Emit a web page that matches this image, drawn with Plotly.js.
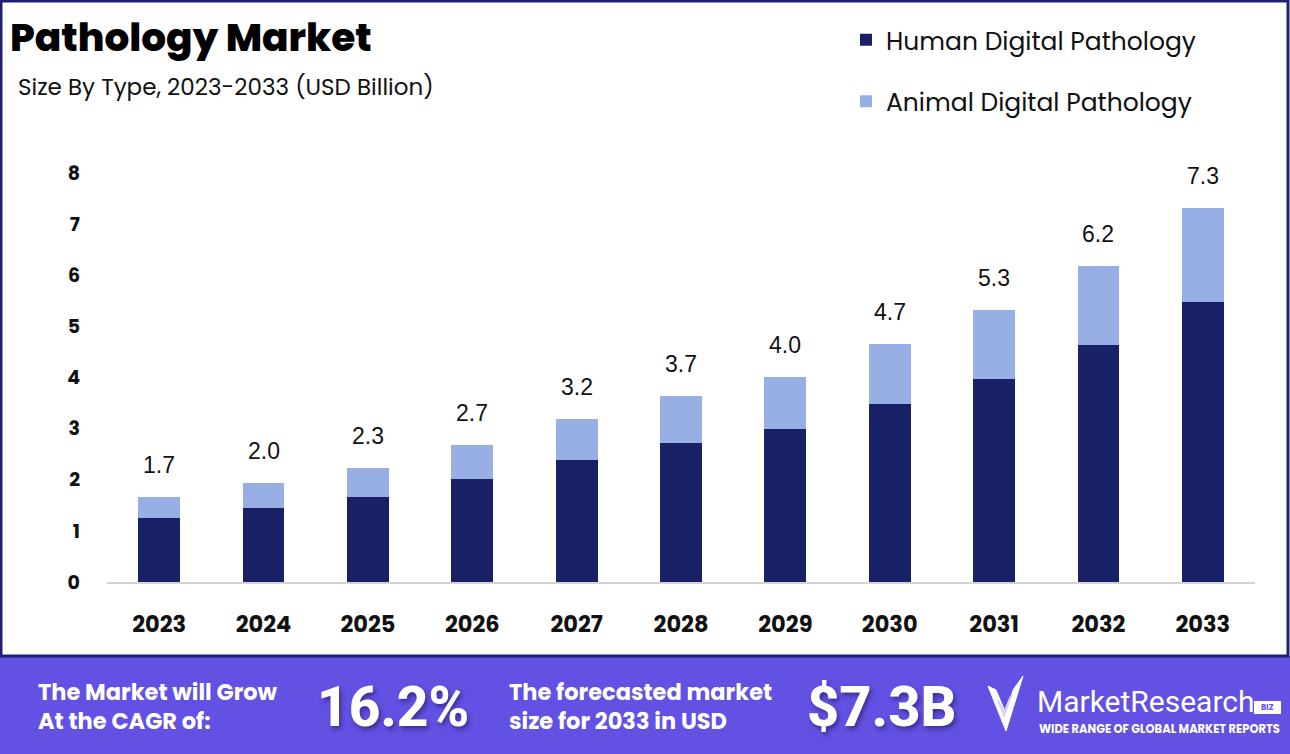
<!DOCTYPE html>
<html>
<head>
<meta charset="utf-8">
<script src="https://cdn.plot.ly/plotly-3.0.1.min.js"></script>
<style>
  html, body { margin: 0; padding: 0; background: #ffffff; }
  #chart { width: 1290px; height: 754px; }
</style>
</head>
<body>
<div id="chart"></div>
<script>
// ---- Data ----
const years = ['2023','2024','2025','2026','2027','2028','2029','2030','2031','2032','2033'];
const humanValues  = [1.25, 1.45, 1.66, 2.02, 2.39, 2.72, 2.99, 3.48, 3.97, 4.64, 5.48];
const animalValues = [0.41, 0.49, 0.57, 0.66, 0.80, 0.92, 1.02, 1.18, 1.35, 1.54, 1.84];
const totalLabels  = [1.7, 2.0, 2.3, 2.7, 3.2, 3.7, 4.0, 4.7, 5.3, 6.2, 7.3];
const yTicks = [0, 1, 2, 3, 4, 5, 6, 7, 8];
const cagrText = '16.2%';
const forecastText = '$7.3B';

// ---- Layout geometry helpers ----
const W = 1290, H = 754;
const M = { l: 107, r: 35, t: 173, b: 172 };
const PW = W - M.l - M.r, PH = H - M.t - M.b;
const px = x => (x - M.l) / PW;
const py = y => (H - M.b - y) / PH;

const DARK = '#182066';
const LIGHT = '#97afe4';
const BANNER = '#6251e2';
const FONT = 'Poppins, Inter, "Open Sans", sans-serif';

const traces = [
  {
    type: 'bar', name: 'Human Digital Pathology', x: years, y: humanValues,
    marker: { color: DARK }, width: 0.4, legendgroup: 'h', hoverinfo: 'x+y'
  },
  {
    type: 'bar', name: 'Animal Digital Pathology', x: years, y: animalValues,
    marker: { color: LIGHT }, width: 0.4, legendgroup: 'a', hoverinfo: 'x+y'
  }
];

// total labels above stacks (category index used as x position)
const annotations = years.map((yr, i) => ({
  x: i, y: humanValues[i] + animalValues[i], xref: 'x', yref: 'y',
  text: totalLabels[i].toFixed(1), showarrow: false,
  yanchor: 'bottom', yshift: 17,
  font: { family: 'Arial, "Liberation Sans", sans-serif', size: 23, color: '#111111' }
}));

const white = '#ffffff';
function ann(x, y, text, size, opts) {
  return Object.assign({
    xref: 'paper', yref: 'paper', x: px(x), y: py(y), text: text, showarrow: false,
    xanchor: 'left', yanchor: 'middle',
    font: { family: FONT, size: size, color: white, weight: 700 }
  }, opts || {});
}

const bigShadow = '2px 3px 4px rgba(30,20,90,0.55)';
annotations.push(
  ann(8, 37, 'Pathology Market', 39, { font: { family: FONT, size: 39, color: '#000000', weight: 800 } }),
  ann(16, 87, 'Size By Type, 2023-2033 (USD Billion)', 23, { font: { family: FONT, size: 23, color: '#111111', weight: 400 } }),
  ann(36, 692, 'The Market will Grow', 22.5),
  ann(36, 721, 'At the CAGR of:', 22.5),
  ann(315, 707, cagrText, 54, { font: { family: 'Roboto, ' + FONT, size: 55, color: white, weight: 800, shadow: bigShadow } }),
  ann(507, 692, 'The forecasted market', 22.5),
  ann(507, 721, 'size for 2033 in USD', 22.5),
  ann(805, 707, forecastText, 54, { font: { family: 'Roboto, ' + FONT, size: 56, color: white, weight: 800, shadow: bigShadow } }),
  ann(1035, 701, 'MarketResearch', 30, { font: { family: 'Roboto, sans-serif', size: 30, color: white, weight: 400 } }),
  ann(1159, 729, 'WIDE RANGE OF GLOBAL MARKET REPORTS', 11.5, { xanchor: 'center', font: { family: FONT, size: 11.5, color: white, weight: 700 } }),
  ann(1267, 707.5, 'BIZ', 8, { xanchor: 'center', font: { family: FONT, size: 8, color: BANNER, weight: 700 } })
);

const shapes = [
  // bottom banner
  { type: 'rect', xref: 'paper', yref: 'paper', x0: px(0), x1: px(W), y0: py(656), y1: py(H),
    fillcolor: BANNER, line: { width: 0 }, layer: 'below' },
  // frame
  { type: 'rect', xref: 'paper', yref: 'paper', x0: px(1), x1: px(1288), y0: py(1), y1: py(656),
    fillcolor: 'rgba(0,0,0,0)', line: { color: '#1c2270', width: 3 } },
  // logo: outer V
  { type: 'path', xref: 'paper', yref: 'paper',
    path: `M ${px(988)} ${py(686)} L ${px(1006)} ${py(731)} L ${px(1023)} ${py(676)} L ${px(1013)} ${py(690)} L ${px(1006)} ${py(714)} L ${px(996)} ${py(690)} Z`,
    fillcolor: white, line: { color: white, width: 1 } },
  // logo: inner V
  { type: 'path', xref: 'paper', yref: 'paper',
    path: `M ${px(997)} ${py(700)} L ${px(1004)} ${py(718)} L ${px(1013)} ${py(694)} L ${px(1010)} ${py(696)} L ${px(1004)} ${py(710)} L ${px(999)} ${py(700)} Z`,
    fillcolor: '#d8d4f7', line: { width: 0 } },
  // BIZ box
  { type: 'rect', xref: 'paper', yref: 'paper', x0: px(1254), x1: px(1281), y0: py(701), y1: py(714),
    fillcolor: white, line: { width: 0 } }
];

const layout = {
  width: W, height: H,
  margin: M,
  paper_bgcolor: '#ffffff', plot_bgcolor: '#ffffff',
  barmode: 'stack',
  bargap: 0.6,
  showlegend: true,
  legend: {
    x: px(846), y: py(17), xanchor: 'left', yanchor: 'top',
    orientation: 'v', traceorder: 'grouped', tracegroupgap: 26,
    font: { family: FONT, size: 25, color: '#111111' },
    bgcolor: 'rgba(0,0,0,0)', itemwidth: 30
  },
  xaxis: {
    type: 'category', range: [-0.5, 10.5],
    showline: true, linecolor: '#d3d3d3', linewidth: 1.5,
    showgrid: false, zeroline: false, ticks: '',
    ticklabelstandoff: 21,
    tickfont: { family: FONT, size: 22.5, color: '#111111', weight: 700 }
  },
  yaxis: {
    range: [0, 8], tickvals: yTicks, ticktext: yTicks.map(String),
    showgrid: false, zeroline: false, showline: false, ticks: '',
    ticklabelstandoff: 26,
    tickfont: { family: FONT, size: 19, color: '#111111', weight: 700 }
  },
  annotations: annotations,
  shapes: shapes
};

Plotly.newPlot('chart', traces, layout, { displayModeBar: false, staticPlot: true });
</script>
</body>
</html>
